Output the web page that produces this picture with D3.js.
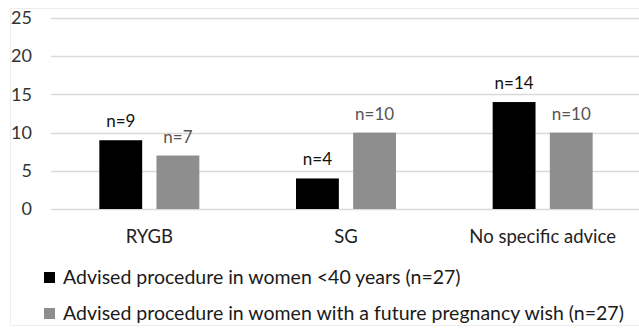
<!DOCTYPE html>
<html>
<head>
<meta charset="utf-8">
<script src="https://cdn.jsdelivr.net/npm/d3@7"></script>
<style>
  body { margin: 0; background: #fff; }
  svg { display: block; font-family: Lato, "Open Sans", sans-serif; }
</style>
</head>
<body>
<svg id="chart" width="639" height="328"></svg>
<script>

// data
const categories = ['RYGB', 'SG', 'No specific advice'];
const under40 = [9, 4, 14];
const pregnancyWish = [7, 10, 10];
const seriesNames = [
    'Advised procedure in women <40 years (n=27)',
    'Advised procedure in women with a future pregnancy wish (n=27)'
];
const yTicks = [0, 5, 10, 15, 20, 25];

const colors = ['#000000', '#8e8e8e'];
const textColor = '#404040';

const width = 639;
const height = 328;
const margin = {top: 18, right: -2, bottom: 119, left: 51};

const svg = d3.select('#chart');

// faint outer frame
svg.append('rect')
    .attr('x', 10.5)
    .attr('y', 8.5)
    .attr('width', 640)
    .attr('height', 317)
    .attr('fill', 'none')
    .attr('stroke', '#ededed');

// scales
const x = d3.scaleBand()
    .domain(categories)
    .range([margin.left, width - margin.right])
    .paddingInner(0)
    .paddingOuter(0);
const y = d3.scaleLinear()
    .domain([0, 25])
    .range([height - margin.bottom, margin.top]);
const inner = d3.scaleBand()
    .domain([0, 1])
    .range([-50, 50])
    .paddingInner(0.25)
    .paddingOuter(0);

// gridlines
svg.append('g')
    .selectAll('line')
    .data(yTicks)
    .join('line')
        .attr('x1', margin.left)
        .attr('x2', width)
        .attr('y1', d => Math.round(y(d)) + 0.5)
        .attr('y2', d => Math.round(y(d)) + 0.5)
        .attr('stroke', '#d9d9d9')
        .attr('stroke-width', 1.3);

// y axis labels
const yAxis = svg.append('g')
    .attr('transform', `translate(${margin.left - 19},0)`)
    .call(d3.axisLeft(y).tickValues(yTicks).tickSize(0).tickPadding(0));
yAxis.select('.domain').remove();
yAxis.selectAll('text')
    .attr('fill', '#333')
    .style('font-size', '18px')
    .style('font-family', 'Lato, sans-serif');

// x axis labels
const xAxis = svg.append('g')
    .attr('transform', `translate(0,${y(0) + 20})`)
    .call(d3.axisBottom(x).tickSize(0).tickPadding(0));
xAxis.select('.domain').remove();
xAxis.selectAll('text')
    .attr('fill', '#222')
    .attr('dy', '0.75em')
    .style('font-size', '18.5px')
    .style('font-family', 'Lato, sans-serif');

// bars
const series = [under40, pregnancyWish];
series.forEach((values, s) => {
    const g = svg.append('g');
    const cx = (d, i) => x(categories[i]) + x.bandwidth() / 2 + inner(s);

    g.selectAll('rect')
        .data(values)
        .join('rect')
            .attr('x', cx)
            .attr('y', d => y(d))
            .attr('width', inner.bandwidth())
            .attr('height', d => y(0) - y(d))
            .attr('fill', colors[s]);

    g.selectAll('text')
        .data(values)
        .join('text')
            .attr('x', (d, i) => cx(d, i) + inner.bandwidth() / 2)
            .attr('y', d => y(d) - 13)
            .attr('text-anchor', 'middle')
            .attr('fill', s === 0 ? '#111' : '#555')
            .style('font-size', '17px')
            .text(d => `n=${d}`);
});

// legend
const legend = svg.append('g')
    .selectAll('g')
    .data(seriesNames)
    .join('g')
        .attr('transform', (d, i) => `translate(44,${277.5 + i * 36})`);
legend.append('rect')
    .attr('x', 0)
    .attr('y', -5.5)
    .attr('width', 11)
    .attr('height', 11)
    .attr('fill', (d, i) => colors[i]);
legend.append('text')
    .attr('x', 19)
    .attr('y', 6.5)
    .attr('fill', '#1a1a1a')
    .style('font-size', '19.5px')
    .text(d => d);

</script>
</body>
</html>
